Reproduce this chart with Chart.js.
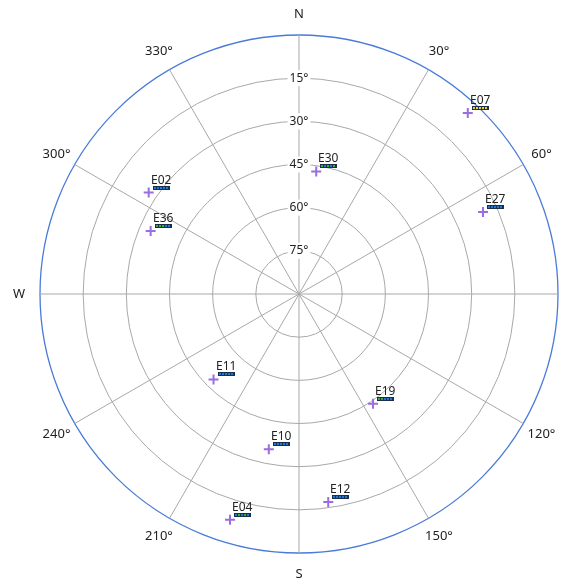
<!DOCTYPE html>
<html>
<head>
<meta charset="utf-8">
<title>Sky plot</title>
<script src="https://cdn.jsdelivr.net/npm/chart.js@4.4.1/dist/chart.umd.min.js"></script>
<style>
    html, body { margin: 0; padding: 0; background: #ffffff; }
    .chart-box { position: relative; width: 576px; height: 585px; }
</style>
</head>
<body>
<div class="chart-box"><canvas id="skyPlot"></canvas></div>
<script>
// satellites in view: azimuth (deg from north, clockwise) and elevation (deg)
const satIds = ["E07", "E27", "E30", "E02", "E36", "E11", "E10", "E04", "E12", "E19"];
const satAzimuth = [43, 66, 8, 304, 293, 225, 191, 197, 172, 146];
const satElevation = [4, 20, 47, 27, 34, 48, 35, 8, 17, 44];
// signal quality per bar cell: g = good, b = normal, y = weak
const satSignal = ["yyyyy", "bbbbb", "gbgbg", "bbbbb", "gggbb", "bbbbb", "bbbbb", "bgbgb", "bbbbb", "ggbbb"];

const azimuthLabels = ["N", "30°", "60°", "E", "120°", "150°", "S", "210°", "240°", "W", "300°", "330°"];
const elevationTicks = [15, 30, 45, 60, 75];

const signalColors = { g: "#2fb52f", b: "#1f7ad6", y: "#f2d21c" };

// one slot per degree of azimuth
const azSlots = [];
for (let a = 0; a < 360; a++) azSlots.push(a);

const datasets = satIds.map((id, i) => {
    const values = azSlots.map(() => null);
    values[satAzimuth[i]] = satElevation[i];
    return {
        label: id,
        data: values,
        showLine: false,
        pointStyle: "cross",
        pointRadius: 5,
        pointHoverRadius: 5,
        pointBorderWidth: 2,
        pointBorderColor: "#9a6ee0",
        pointBackgroundColor: "#9a6ee0"
    };
});

// compass / azimuth labels round the outer ring
const compassLabels = {
    id: "compassLabels",
    afterDraw(chart) {
        const scale = chart.scales.r;
        const ctx = chart.ctx;
        ctx.save();
        ctx.font = "13px 'Noto Sans', sans-serif";
        ctx.fillStyle = "#222222";
        ctx.textAlign = "center";
        ctx.textBaseline = "middle";
        azimuthLabels.forEach((txt, i) => {
            const p = scale.getPointPosition(i * 30, scale.drawingArea + 21);
            ctx.fillText(txt, p.x, p.y);
        });
        ctx.restore();
    }
};

// satellite id and signal bar next to each marker
const satTags = {
    id: "satTags",
    afterDatasetsDraw(chart) {
        const ctx = chart.ctx;
        ctx.save();
        satIds.forEach((id, i) => {
            const pt = chart.getDatasetMeta(i).data[satAzimuth[i]];
            if (!pt) return;
            const x = Math.round(pt.x), y = Math.round(pt.y);

            ctx.font = "12px 'Noto Sans', sans-serif";
            ctx.fillStyle = "#222222";
            ctx.textAlign = "left";
            ctx.textBaseline = "alphabetic";
            ctx.fillText(id, x + 2, y - 9);

            // bar: dark frame with five cells
            const bx = x + 4, by = y - 7, bw = 17, bh = 4;
            ctx.fillStyle = "#1c2f4a";
            ctx.fillRect(bx, by, bw, bh);
            const cells = satSignal[i].split("");
            cells.forEach((c, k) => {
                ctx.fillStyle = signalColors[c];
                ctx.fillRect(bx + 1 + k * 3, by + 1, 2, bh - 2);
            });
        });
        ctx.restore();
    }
};

Chart.defaults.font.family = "'Noto Sans', sans-serif";

new Chart(document.getElementById("skyPlot").getContext("2d"), {
    type: "radar",
    data: { labels: azSlots, datasets: datasets },
    options: {
        responsive: true,
        maintainAspectRatio: false,
        animation: false,
        layout: { padding: { left: 32, right: 10, top: 27, bottom: 24 } },
        plugins: {
            legend: { display: false },
            tooltip: { enabled: false }
        },
        scales: {
            r: {
                min: 0,
                max: 90,
                reverse: true,
                startAngle: 0,
                angleLines: {
                    color: "#a8a8a8",
                    lineWidth: ctx => (ctx.index % 30 === 0 ? 1 : 0)
                },
                grid: {
                    circular: true,
                    color: ctx => (ctx.tick && ctx.tick.value === 0 ? "#4a7bd8" : "#a8a8a8"),
                    lineWidth: ctx => (ctx.tick && ctx.tick.value === 0 ? 1.3 : 1)
                },
                pointLabels: { display: false },
                ticks: {
                    stepSize: 15,
                    color: "#222222",
                    font: { size: 12 },
                    backdropColor: "#ffffff",
                    backdropPadding: 2,
                    showLabelBackdrop: ctx => elevationTicks.includes(ctx.tick.value),
                    callback: v => (elevationTicks.includes(v) ? v + "°" : "")
                }
            }
        }
    },
    plugins: [compassLabels, satTags]
});
</script>
</body>
</html>
